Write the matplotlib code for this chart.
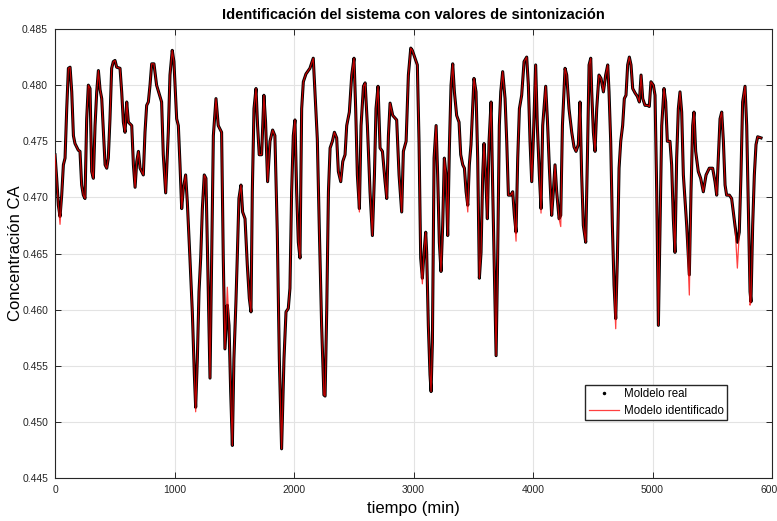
import numpy as np
import matplotlib
matplotlib.use("Agg")
import matplotlib.pyplot as plt
from matplotlib.lines import Line2D

plt.rcParams['font.family'] = ['Liberation Sans Narrow', 'Liberation Sans', 'DejaVu Sans']

# tiempo (min) y concentracion CA medida en la planta
tiempo = np.array([
    0, 14, 28, 42, 56, 70, 84, 98, 112, 126, 140, 154, 167, 195, 209, 223, 237, 251,
    265, 279, 293, 307, 321, 335, 349, 363, 377, 391, 405, 419, 433, 446, 460, 474,
    488, 502, 516, 544, 558, 572, 586, 600, 614, 642, 656, 670, 684, 698, 712,
    739, 753, 767, 781, 795, 809, 828, 850, 878, 892, 906, 926, 948, 962, 981, 995,
    1018, 1032, 1046, 1060, 1074, 1093, 1107, 1129, 1149, 1166, 1177, 1191, 1205,
    1219, 1233, 1249, 1263, 1277, 1297, 1311, 1325, 1347, 1366, 1394, 1408, 1422,
    1442, 1456, 1470, 1484,
    1497, 1514, 1525, 1539, 1556, 1570, 1590, 1609, 1626, 1640, 1651, 1665, 1682,
    1695, 1709, 1729, 1748, 1762, 1779, 1799, 1821, 1840, 1860, 1877, 1896, 1916,
    1933, 1952, 1966, 1980, 1994, 2008, 2022, 2036, 2050, 2064, 2078, 2100, 2133,
    2161, 2175, 2195, 2211, 2231, 2250,
    2260, 2274, 2288, 2302, 2321, 2338, 2357, 2371, 2391, 2408, 2427, 2441, 2463,
    2483, 2502, 2516, 2530, 2547, 2561, 2581, 2595, 2614, 2636, 2656, 2673, 2686,
    2703, 2720, 2740, 2762, 2776, 2790, 2804, 2826, 2859, 2879, 2901, 2915, 2938,
    2957, 2977,
    2990, 3013, 3032, 3046, 3060, 3074, 3088, 3102, 3110, 3124, 3138, 3147, 3158,
    3172, 3189, 3202, 3216, 3230, 3244, 3258, 3272, 3286, 3300, 3314, 3328, 3342,
    3361, 3381, 3395, 3412, 3426, 3440, 3454, 3467, 3481, 3495, 3506, 3523, 3537,
    3551, 3565, 3579, 3590, 3604, 3618, 3632, 3649, 3663, 3677, 3691, 3704, 3718, 3730,
    3746, 3766, 3780, 3794, 3813, 3830, 3844, 3858, 3872, 3886, 3905, 3925, 3947,
    3961, 3975, 3989, 4003, 4022, 4036, 4053, 4067, 4081, 4106, 4120, 4137, 4156,
    4170, 4184, 4198, 4218, 4232, 4246, 4268, 4282, 4301, 4324, 4343, 4360, 4379,
    4393, 4407, 4421, 4441, 4455, 4469, 4483,
    4491, 4505, 4519, 4533, 4552, 4569, 4589, 4608, 4625, 4636, 4650, 4664, 4678,
    4692, 4706, 4720, 4734, 4750, 4764, 4778, 4792, 4806, 4820, 4834, 4854, 4873,
    4890, 4904, 4918, 4937, 4957, 4973, 4987, 5007, 5021, 5035, 5049, 5063, 5077,
    5096, 5110, 5124, 5146, 5160, 5174, 5188, 5202, 5216, 5230, 5244,
    5258, 5286, 5308, 5322, 5336, 5347, 5361, 5383, 5403, 5425, 5448, 5475, 5503,
    5523, 5537, 5551, 5565, 5579, 5593, 5607, 5620, 5643, 5662, 5676, 5690, 5710,
    5726, 5740, 5754, 5774, 5788, 5802, 5816, 5824, 5838, 5852, 5866, 5880, 5908])

ca_real = np.array([
    0.4738, 0.4717, 0.4693, 0.4683, 0.4702, 0.4729, 0.4735, 0.4779, 0.4815, 0.4816,
    0.4794, 0.4755, 0.4748, 0.4742, 0.4741, 0.4711, 0.4702, 0.4699, 0.4770, 0.4800,
    0.4797, 0.4723, 0.4717, 0.4764, 0.4794, 0.4813, 0.4796, 0.4788, 0.4758, 0.4729,
    0.4726, 0.4735, 0.4770, 0.4815, 0.4821, 0.4822, 0.4816, 0.4815, 0.4794, 0.4767,
    0.4758, 0.4785, 0.4767, 0.4764, 0.4729, 0.4709, 0.4732, 0.4741, 0.4726,
    0.4720, 0.4758, 0.4782, 0.4785, 0.4800, 0.4819, 0.4819, 0.4800, 0.4790, 0.4785,
    0.4738, 0.4704, 0.4758, 0.4809, 0.4831, 0.4821, 0.4770, 0.4764, 0.4729, 0.4690,
    0.4708, 0.4720, 0.4696, 0.4646, 0.4598, 0.4542, 0.4513, 0.4556, 0.4616, 0.4646,
    0.4690, 0.4720, 0.4717, 0.4646, 0.4539, 0.4646, 0.4755, 0.4788, 0.4764, 0.4758,
    0.4646, 0.4565, 0.4604, 0.4586, 0.4527, 0.4479,
    0.4556, 0.4607, 0.4646, 0.4699, 0.4711, 0.4687, 0.4681, 0.4640, 0.4610, 0.4598,
    0.4705, 0.4779, 0.4797, 0.4764, 0.4738, 0.4738, 0.4791, 0.4767, 0.4714, 0.4750,
    0.4760, 0.4755, 0.4669, 0.4556, 0.4476, 0.4556, 0.4598, 0.4601, 0.4619, 0.4705,
    0.4755, 0.4769, 0.4705, 0.4660, 0.4646, 0.4779, 0.4803, 0.4810, 0.4815, 0.4824,
    0.4794, 0.4752, 0.4675, 0.4586, 0.4524,
    0.4523, 0.4601, 0.4705, 0.4744, 0.4750, 0.4758, 0.4753, 0.4723, 0.4714, 0.4732,
    0.4738, 0.4764, 0.4776, 0.4809, 0.4824, 0.4779, 0.4720, 0.4690, 0.4764, 0.4799,
    0.4802, 0.4764, 0.4705, 0.4666, 0.4720, 0.4779, 0.4799, 0.4744, 0.4741, 0.4714,
    0.4699, 0.4755, 0.4784, 0.4773, 0.4769, 0.4720, 0.4687, 0.4741, 0.4750, 0.4809,
    0.4833,
    0.4831, 0.4824, 0.4818, 0.4750, 0.4646, 0.4628, 0.4651, 0.4669, 0.4651, 0.4586,
    0.4542, 0.4527, 0.4571, 0.4735, 0.4764, 0.4720, 0.4660, 0.4634, 0.4675, 0.4735,
    0.4720, 0.4666, 0.4744, 0.4800, 0.4819, 0.4794, 0.4773, 0.4767, 0.4738, 0.4729,
    0.4726, 0.4705, 0.4693, 0.4729, 0.4747, 0.4779, 0.4806, 0.4794, 0.4735, 0.4628,
    0.4651, 0.4720, 0.4748, 0.4720, 0.4681, 0.4750, 0.4785, 0.4705, 0.4631, 0.4559,
    0.4646, 0.4764, 0.4794,
    0.4812, 0.4788, 0.4750, 0.4702, 0.4702, 0.4705, 0.4684, 0.4669, 0.4735, 0.4779,
    0.4791, 0.4821, 0.4825, 0.4800, 0.4750, 0.4714, 0.4753, 0.4818, 0.4764, 0.4720,
    0.4690, 0.4764, 0.4799, 0.4770, 0.4726, 0.4684, 0.4705, 0.4729, 0.4705, 0.4681,
    0.4684, 0.4764, 0.4815, 0.4809, 0.4779, 0.4758, 0.4745, 0.4741, 0.4747, 0.4785,
    0.4720, 0.4675, 0.4660, 0.4735, 0.4818, 0.4824,
    0.4794, 0.4758, 0.4741, 0.4779, 0.4809, 0.4806, 0.4794, 0.4809, 0.4818, 0.4794,
    0.4750, 0.4675, 0.4622, 0.4592, 0.4646, 0.4726, 0.4750, 0.4764, 0.4788, 0.4791,
    0.4818, 0.4825, 0.4818, 0.4797, 0.4793, 0.4790, 0.4785, 0.4809, 0.4788, 0.4782,
    0.4782, 0.4781, 0.4803, 0.4800, 0.4791, 0.4705, 0.4586, 0.4675, 0.4764, 0.4797,
    0.4785, 0.4750, 0.4750, 0.4729, 0.4681, 0.4651, 0.4735, 0.4779, 0.4794, 0.4776,
    0.4720, 0.4675, 0.4631, 0.4705, 0.4764, 0.4776, 0.4741, 0.4723, 0.4717, 0.4705,
    0.4720, 0.4726, 0.4726, 0.4714, 0.4702, 0.4735, 0.4770, 0.4776, 0.4750, 0.4711,
    0.4702, 0.4702, 0.4699, 0.4687, 0.4675, 0.4660, 0.4669, 0.4720, 0.4785, 0.4799,
    0.4764, 0.4690, 0.4616, 0.4607, 0.4675, 0.4720, 0.4747, 0.4754, 0.4753])

# puntos donde el modelo identificado se separa de la planta
dev_t = [42, 1177, 1442, 2547, 3074, 3454, 3858, 4067, 4232, 4692, 5308, 5710, 5816]
dev_ca = [0.4676, 0.4509, 0.4620, 0.4687, 0.4623, 0.4687, 0.4661, 0.4686, 0.4674,
          0.4583, 0.4613, 0.4637, 0.4604]

ca_model = ca_real.copy()
for t, v in zip(dev_t, dev_ca):
    ca_model[tiempo == t] = v

fig = plt.figure(figsize=(7.77, 5.21), dpi=100)
ax = fig.add_axes([0.0708, 0.0825, 0.9228, 0.8618])

ax.plot(tiempo, ca_real, color='black', lw=2.2, solid_joinstyle='round', zorder=2)
ax.plot(tiempo, ca_model, color='red', lw=0.9, alpha=0.75, zorder=3)

ax.set_xlim(0, 6000)
ax.set_ylim(0.445, 0.485)
ax.set_xticks(np.arange(0, 6001, 1000))
ax.set_yticks(np.arange(0.445, 0.4851, 0.005))
ax.yaxis.set_major_formatter(matplotlib.ticker.FormatStrFormatter('%.3f'))
ax.grid(True, color='#e3e3e3', lw=0.8)
ax.set_axisbelow(True)
ax.tick_params(direction='in', length=4, width=0.7, labelsize=7.5,
               colors='#262626', top=True, right=True, pad=5)
for s in ax.spines.values():
    s.set_color('#262626')
    s.set_linewidth(0.8)

ax.set_title('Identificación del sistema con valores de sintonización',
             fontsize=10.5, fontweight='bold', pad=7)
ax.set_xlabel('tiempo (min)', fontsize=12, labelpad=4)
ax.set_ylabel('Concentración CA', fontsize=12, family='Liberation Sans')
ax.yaxis.set_label_coords(-0.045, 0.5)

handles = [Line2D([], [], color='black', marker='.', ms=3, ls='none'),
           Line2D([], [], color='red', lw=0.9, alpha=0.75)]
ax.legend(handles, ['Moldelo real', 'Modelo identificado'], loc='lower right',
          bbox_to_anchor=(0.937, 0.129), fontsize=8.3, frameon=True, fancybox=False,
          edgecolor='#262626', framealpha=1, borderpad=0.3, handlelength=2.6,
          handletextpad=0.4, labelspacing=0.4, borderaxespad=0)

fig.savefig('out.png', dpi=100)
